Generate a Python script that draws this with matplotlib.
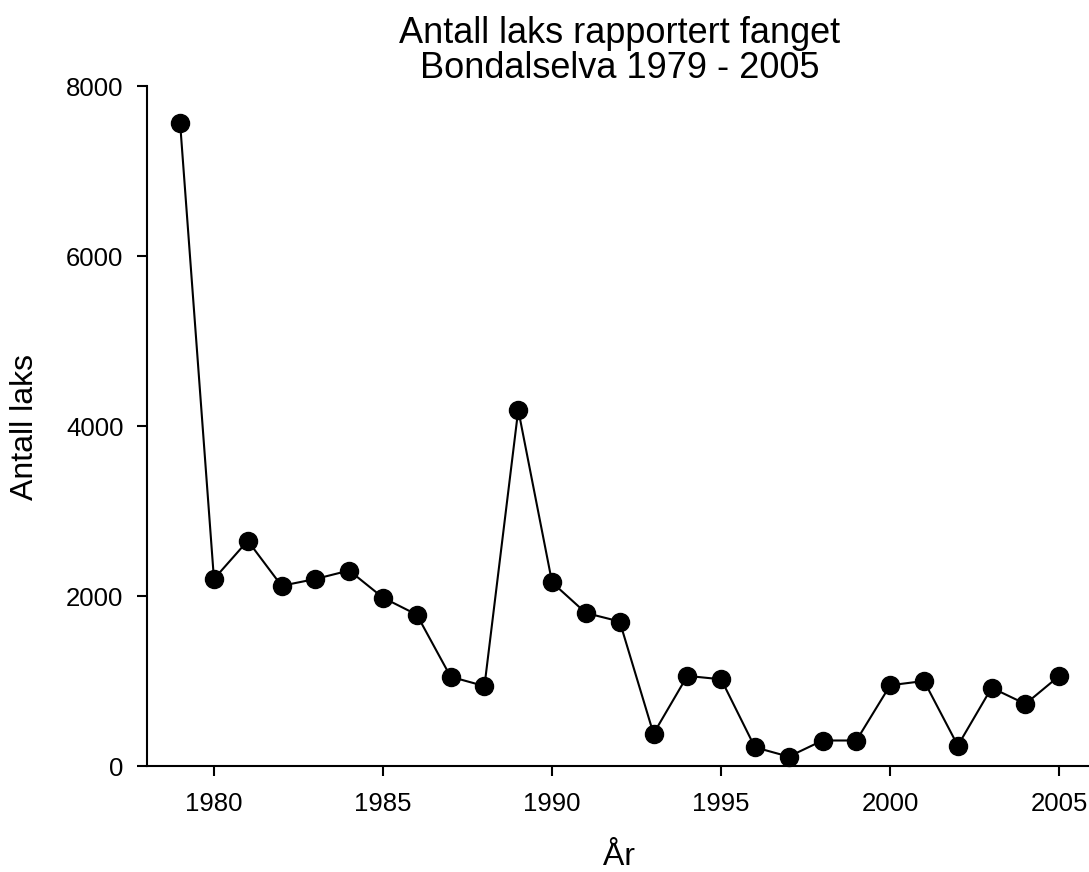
import matplotlib
matplotlib.use("Agg")
import matplotlib.pyplot as plt

plt.rcParams['font.family'] = ['Liberation Sans', 'DejaVu Sans']

years = list(range(1979, 2006))
catch = [7560, 2200, 2650, 2120, 2200, 2300, 1980, 1780, 1050, 940,
         4190, 2160, 1800, 1700, 380, 1060, 1020, 220, 110, 300,
         300, 950, 1000, 240, 920, 730, 1060]
x_ticks = [1980, 1985, 1990, 1995, 2000, 2005]
y_ticks = [0, 2000, 4000, 6000, 8000]

W, H = 1089, 872
fig = plt.figure(figsize=(W / 100, H / 100), dpi=100)
ax = fig.add_axes([147 / W, 1 - 766 / H, (1088 - 147) / W, (766 - 86) / H])

ax.plot(years, catch, color='black', lw=1.5, marker='o', ms=13,
        markerfacecolor='black', markeredgecolor='black', clip_on=False)

ax.set_xlim(1978.02, 2005.85)
ax.set_ylim(0, 8000)
ax.set_xticks(x_ticks)
ax.set_yticks(y_ticks)

for s in ('top', 'right'):
    ax.spines[s].set_visible(False)
for s in ('left', 'bottom'):
    ax.spines[s].set_linewidth(1.5)

ax.tick_params(axis='both', direction='out', length=7, width=1.5, labelsize=18.5)
ax.tick_params(axis='x', pad=12)
ax.tick_params(axis='y', pad=10)

# two-line title, each line placed on its own baseline
fig.text(619.5 / W, 1 - 43 / H, "Antall laks rapportert fanget",
         ha='center', va='baseline', fontsize=26)
fig.text(619.5 / W, 1 - 78 / H, "Bondalselva 1979 - 2005",
         ha='center', va='baseline', fontsize=26)

fig.text(33 / W, 1 - 426.5 / H, "Antall laks", rotation=90, rotation_mode='anchor',
         ha='center', va='baseline', fontsize=23)
fig.text(619 / W, 1 - 865 / H, "År", ha='center', va='baseline', fontsize=23)

fig.savefig("out.png", dpi=100)
